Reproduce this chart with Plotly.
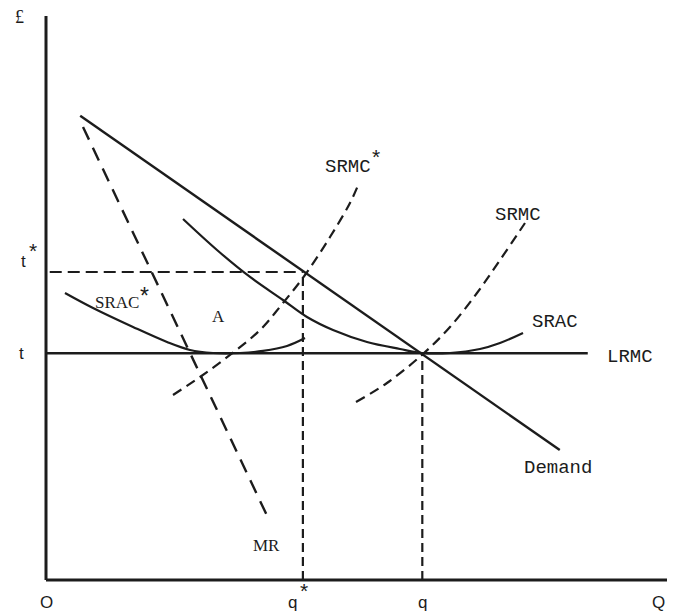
import plotly.graph_objects as go

# ---- Data (economic diagram units: quantity 0-100, price 0-100) ----
t_level = 40.5       # price t (LRMC)
t_star = 55.0        # price t*
q_star = 41.3        # output q*
q_level = 60.5       # output q
x_max = 100.0
y_max = 100.7

demand_x = [5.5, 82.6]
demand_y = [82.9, 23.2]

mr_x = [5.95, 36.0]
mr_y = [80.9, 10.4]

lrmc_x = [0.0, 87.1]
lrmc_y = [t_level, t_level]

srac_star_x = [3.05, 7.56, 13.99, 19.45, 23.15, 26.85, 31.19, 34.89, 38.75, 41.64]
srac_star_y = [51.25, 48.57, 45.18, 42.5, 41.07, 40.54, 40.54, 40.9, 41.79, 43.21]

srac_x = [22.03, 27.49, 32.8, 38.1, 41.96, 46.14, 51.61, 56.91, 60.45, 64.95, 69.77, 72.99, 76.69]
srac_y = [64.46, 58.93, 54.11, 50.0, 46.96, 44.64, 42.5, 41.25, 40.54, 40.54, 41.25, 42.32, 44.11]

srmc_star_x = [20.42, 24.76, 29.58, 34.41, 38.1, 41.64, 45.66, 48.87, 50.32]
srmc_star_y = [33.04, 36.25, 40.18, 44.64, 49.46, 54.46, 61.25, 67.32, 70.89]

srmc_x = [49.84, 54.82, 60.61, 64.95, 69.29, 72.99, 77.01]
srmc_y = [31.79, 35.18, 40.36, 45.18, 51.25, 57.14, 63.75]

INK = "#1c1c1c"
MONO = "Liberation Mono"
SERIF = "Liberation Serif"
SANS = "Liberation Sans"

fig = go.Figure()

def add_line(x, y, width=2.4, dash="solid", shape="spline"):
    fig.add_trace(go.Scatter(x=x, y=y, mode="lines",
                             line=dict(color=INK, width=width, dash=dash, shape=shape, smoothing=1.0),
                             hoverinfo="skip", showlegend=False))

# axes
add_line([0, 0], [0, y_max], width=3, shape="linear")
add_line([0, x_max], [0, 0], width=3, shape="linear")

# demand, MR, LRMC
add_line(demand_x, demand_y, width=2.4, shape="linear")
add_line(mr_x, mr_y, width=2.4, dash="14px,9px", shape="linear")
add_line(lrmc_x, lrmc_y, width=2.4, shape="linear")

# guide lines
add_line([0.6, q_star], [t_star, t_star], width=2.2, dash="12px,6px", shape="linear")
add_line([q_star, q_star], [0, t_star], width=2.2, dash="9px,5px", shape="linear")
add_line([q_level, q_level], [0, t_level], width=2.2, dash="9px,5px", shape="linear")

# cost curves
add_line(srac_star_x, srac_star_y, width=2.2)
add_line(srac_x, srac_y, width=2.2)
add_line(srmc_star_x, srmc_star_y, width=2.2, dash="10px,6px")
add_line(srmc_x, srmc_y, width=2.2, dash="10px,6px")

def label(x, y, text, family=MONO, size=19, xanchor="center", yanchor="middle"):
    fig.add_annotation(x=x, y=y, xref="x", yref="y", text=text, showarrow=False,
                       font=dict(family=family, size=size, color=INK),
                       xanchor=xanchor, yanchor=yanchor)

# axis labels
label(-4.3, 100.6, "£", family=SERIF, size=18)
label(-3.6, t_star + 1.9, "t", family=SANS, size=17)
label(-2.1, t_star + 3.8, "*", family=SANS, size=21)
label(-3.9, t_level, "t", family=SANS, size=17)
label(0.1, -4.0, "O", family=SANS, size=17)
label(q_star - 1.6, -4.0, "q", family=SANS, size=17)
label(q_star + 0.2, -1.9, "*", family=SANS, size=21)
label(q_level, -4.0, "q", family=SANS, size=17)
label(98.5, -4.0, "Q", family=SANS, size=17)

# curve labels
label(11.4, 49.6, "SRAC", family=SERIF, size=17)
label(15.9, 50.7, "*", family=SANS, size=23)
label(27.8, 47.1, "A", family=SERIF, size=17)
label(48.6, 73.8, "SRMC", family=MONO, size=19)
label(53.0, 75.6, "*", family=SANS, size=21)
label(75.9, 65.2, "SRMC", family=MONO, size=19)
label(81.9, 46.0, "SRAC", family=MONO, size=19)
label(93.9, 39.8, "LRMC", family=MONO, size=19)
label(82.3, 20.0, "Demand", family=MONO, size=19)
label(35.4, 6.2, "MR", family=SERIF, size=17)

# pixel mapping (page has an 8px body margin; figure sized to fill the rest):
# x=0 at page px 46, 6.22 px/unit; y=0 at page px 580, 5.6 px/unit
off = 8
W, H = 675 - off, 611 - off
x_lo = -(46 - off) / 6.22
x_hi = (W - (46 - off)) / 6.22
y_hi = (580 - off) / 5.6
y_lo = -(H - (580 - off)) / 5.6

fig.update_layout(
    width=W, height=H,
    margin=dict(l=0, r=0, t=0, b=0),
    paper_bgcolor="white", plot_bgcolor="white",
    xaxis=dict(range=[x_lo, x_hi], visible=False, fixedrange=True),
    yaxis=dict(range=[y_lo, y_hi], visible=False, fixedrange=True),
    showlegend=False,
)

fig.write_html("out.html")
